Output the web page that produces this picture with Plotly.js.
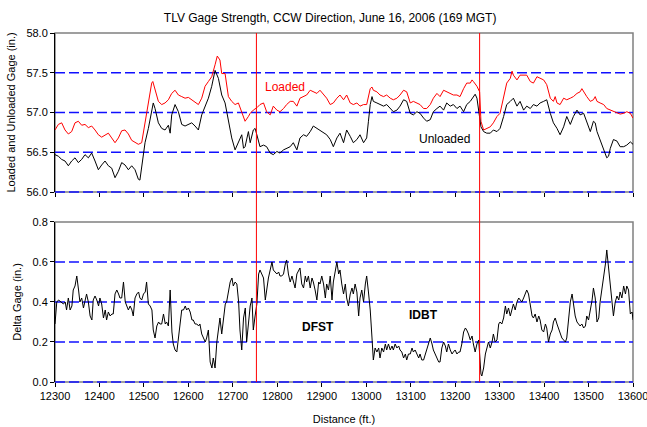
<!DOCTYPE html>
<html>
<head>
<meta charset="utf-8">
<script src="https://cdn.plot.ly/plotly-3.0.1.min.js"></script>
<style>html,body{margin:0;padding:0;background:#fff;}#chart{width:647px;height:427px;}</style>
</head>
<body>
<div id="chart"></div>
<script>
// Loaded gage (red), distance in ft
const loadedX = [12300,12307.5,12315,12322.5,12330,12337.5,12345,12352.5,12360,12367.5,12375,12382.5,12390,12397.5,12405,12412.5,12420,12427.5,12435,12442.5,12450,12457.5,12465,12472.5,12480,12487.5,12495,12502.5,12510,12517.5,12520,12525,12532.5,12540,12547.5,12555,12562.5,12570,12577.5,12585,12592.5,12600,12607.5,12615,12622.5,12630,12637.5,12645,12652.5,12660,12665,12671,12675,12682.5,12690,12697.5,12705,12712.5,12720,12727.5,12735,
12739,12746,12754,12761,12769,12776,12784,12791,12799,12806,12814,12821,12829,12836,12844,12851,12859,12866,12874,12881,12889,12896,12904,12911,12919,12926,12934,12941,12949,12956,12964,12971,12979,12986,12994,13001,13009,13013,13016,13024,13031,13039,13046,13054,13061,13069,13076,13084,13091,13099,13106,13114,13121,13129,13136,13144,13151,13159,
13166,13174,13181,13189,13196,13204,13211,13219,13226,13234,13238,13241,13249,13255,13258,13264,13271,13279,13286,13294,13301,13309,13316,13324,13328,13331,13339,13346,13354,13361,13369,13376,13384,13391,13399,13406,13414,13421,13425,13429,13436,13444,13451,13459,13466,13474,13481,13485,13489,13496,13504,13511,13515,13519,13526,13534,13541,13549,13556,13564,13571,13579,13586,13594,13600];
const loadedY = [56.78,56.85,56.87,56.78,56.73,56.76,56.87,56.89,56.84,56.85,56.81,56.83,56.78,56.72,56.69,56.72,56.74,56.68,56.62,56.68,56.77,56.78,56.73,56.65,56.63,56.60,56.62,56.89,57.10,57.37,57.39,57.30,57.14,57.10,57.12,57.16,57.24,57.28,57.22,57.20,57.18,57.19,57.16,57.14,57.10,57.18,57.33,57.39,57.45,57.60,57.71,57.66,57.49,57.49,57.20,57.14,57.10,57.12,56.99,56.89,56.95,
56.99,57.03,57.06,57.10,57.12,57.01,56.97,57.08,57.03,57.01,57.05,57.10,57.14,57.14,57.08,57.18,57.20,57.22,57.28,57.26,57.24,57.28,57.22,57.18,57.10,57.12,57.18,57.22,57.16,57.22,57.12,57.10,57.12,57.08,57.10,57.10,57.30,57.32,57.28,57.26,57.22,57.20,57.22,57.18,57.16,57.18,57.22,57.28,57.26,57.12,57.14,57.12,57.10,57.05,57.05,57.10,57.18,57.24,
57.20,57.28,57.26,57.24,57.22,57.22,57.20,57.30,57.37,57.37,57.41,57.39,57.33,57.26,56.89,56.78,56.80,56.82,56.87,56.95,56.99,57.18,57.37,57.43,57.52,57.47,57.41,57.47,57.47,57.47,57.39,57.37,57.45,57.43,57.41,57.35,57.18,57.14,57.20,57.12,57.10,57.18,57.16,57.18,57.20,57.24,57.26,57.30,57.26,57.20,57.14,57.16,57.20,57.14,57.12,57.10,57.05,57.03,57.01,56.99,56.98,56.99,57.01,56.99,56.93];

// Unloaded gage (black)
const unloadedX = [12300,12307.5,12315,12322.5,12330,12337.5,12345,12352.5,12360,12367.5,12375,12382.5,12390,12397.5,12405,12412.5,12420,12427.5,12435,12442.5,12450,12457.5,12465,12472.5,12480,12487.5,12491,12495,12502.5,12510,12517.5,12521,12525,12532.5,12540,12547.5,12555,12559,12562.5,12570,12577.5,12585,12592.5,12600,12607.5,12615,12622.5,12630,12637.5,12645,12652.5,12660,12667.5,12675,12682.5,12690,12697.5,12705,12712.5,12720,12724,12727.5,12735,
12739,12746,12750,12754,12761,12769,12776,12784,12791,12799,12806,12814,12821,12829,12836,12844,12851,12859,12866,12874,12881,12889,12896,12904,12911,12919,12926,12934,12941,12949,12956,12964,12971,12979,12986,12994,13001,13005,13009,13013,13016,13024,13031,13039,13046,13054,13061,13069,13076,13084,13091,13099,13106,13114,13121,13129,13136,13144,13151,13159,
13166,13174,13181,13189,13196,13204,13211,13219,13226,13234,13241,13245,13249,13255,13258,13264,13271,13279,13286,13294,13301,13309,13316,13324,13331,13339,13346,13354,13361,13369,13376,13384,13391,13399,13406,13414,13421,13429,13436,13444,13451,13459,13466,13474,13481,13489,13496,13504,13511,13515,13519,13526,13534,13541,13545,13549,13556,13564,13571,13579,13586,13594,13600];
const unloadedY = [56.47,56.45,56.41,56.39,56.33,56.39,56.43,56.37,56.41,56.47,56.43,56.49,56.39,56.28,56.34,56.39,56.33,56.30,56.18,56.26,56.37,56.34,56.28,56.33,56.28,56.16,56.15,56.34,56.62,56.80,56.99,57.12,57.05,56.87,56.80,56.78,56.84,56.74,56.97,57.10,57.01,56.85,56.83,56.85,56.87,56.83,56.78,56.97,57.08,57.18,57.33,57.53,57.43,57.22,57.12,56.89,56.68,56.53,56.62,56.72,56.55,56.57,56.76,
56.62,56.78,56.80,56.72,56.57,56.59,56.57,56.49,56.47,56.51,56.49,56.53,56.55,56.57,56.62,56.53,56.68,56.72,56.70,56.76,56.83,56.80,56.78,56.74,56.72,56.66,56.57,56.68,56.74,56.62,56.78,56.70,56.62,56.66,56.72,56.62,56.68,56.89,57.10,57.20,57.14,57.12,57.10,57.08,57.10,57.05,57.01,57.03,57.08,57.16,57.14,56.99,56.97,57.01,56.99,56.93,56.89,56.91,57.01,57.05,
57.08,57.03,57.12,57.08,57.10,57.05,57.08,57.01,57.10,57.14,57.20,57.23,57.18,56.97,56.82,56.76,56.74,56.74,56.78,56.76,56.80,56.95,57.10,57.14,57.18,57.08,57.14,57.03,57.08,57.05,57.10,57.08,57.12,57.14,57.16,56.99,56.87,56.80,56.72,56.82,56.95,56.85,56.95,57.03,56.97,56.99,56.89,56.76,56.89,56.87,56.76,56.66,56.53,56.43,56.45,56.55,56.66,56.64,56.57,56.57,56.59,56.63,56.60];

// Delta gage (black, lower panel)
const deltaX = [12300,12304,12308,12315,12319,12323,12326,12330,12334,12338,12341,12345,12349,12353,12356,12360,12364,12368,12371,12375,12379,12383,12386,12390,12394,12398,12401,12405,12409,12413,12416,12420,12424,12428,12431,12435,12439,12443,12446,12450,12454,12458,12461,12465,12469,12473,12476,12480,12484,12488,12491,12495,12499,12503,12506,12510,12514,12518,12521,12525,12529,12533,12536,12540,12544,12548,12551,12555,12559,12563,12566,12570,12574,12578,12581,12585,12589,12593,12596,12600,12604,12608,12611,12615,12619,12623,12626,12630,12634,12638,12641,12645,12649,12653,12656,12660,12664,12668,12671,12675,12679,12683,12686,12690,12694,12698,12701,12705,12709,12713,12716,12720,12724,12728,12731,12735,
12739,12743,12746,12750,12754,12758,12761,12765,12769,12773,12776,12780,12784,12788,12791,12795,12799,12803,12806,12810,12814,12818,12821,12825,12829,12833,12836,12840,12844,12848,12851,12855,12859,12863,12866,12870,12874,12878,12881,12885,12889,12893,12896,12900,12904,12908,12911,12915,12919,12923,12926,12930,12934,12938,12941,12945,12949,12953,12956,12960,12964,12968,12971,12975,12979,12983,12986,12990,12994,12998,13001,13005,13009,13013,13016,13020,13024,13028,13031,13035,13039,13043,13046,13050,13054,13058,13061,13065,13069,13073,13076,13080,13084,13088,13091,13095,13099,13103,13106,13110,13114,13118,13121,13125,13129,13133,13136,13140,13144,13148,13151,13155,13159,13163,
13166,13170,13174,13178,13181,13185,13189,13193,13196,13200,13204,13208,13211,13215,13219,13223,13226,13230,13234,13238,13241,13245,13249,13253,13255,13258,13260,13264,13268,13271,13275,13279,13283,13286,13290,13294,13298,13301,13305,13309,13313,13316,13320,13324,13328,13331,13335,13339,13343,13346,13350,13354,13358,13361,13365,13369,13373,13376,13380,13384,13388,13391,13395,13399,13403,13406,13410,13414,13418,13421,13425,13429,13433,13436,13440,13444,13448,13451,13455,13459,13463,13466,13470,13474,13478,13481,13485,13489,13493,13496,13500,13504,13508,13511,13515,13519,13523,13526,13530,13534,13538,13541,13545,13549,13553,13556,13560,13564,13568,13571,13575,13579,13583,13586,13590,13594,13598,13600];
const deltaY = [0.29,0.40,0.41,0.40,0.39,0.40,0.36,0.42,0.36,0.38,0.46,0.48,0.53,0.46,0.40,0.42,0.37,0.41,0.44,0.40,0.33,0.31,0.41,0.43,0.41,0.38,0.42,0.39,0.32,0.36,0.31,0.35,0.33,0.34,0.34,0.44,0.46,0.44,0.42,0.42,0.50,0.40,0.38,0.36,0.38,0.36,0.33,0.42,0.44,0.45,0.42,0.41,0.44,0.45,0.50,0.39,0.38,0.36,0.26,0.22,0.28,0.30,0.29,0.29,0.34,0.29,0.30,0.28,0.46,0.25,0.19,0.16,0.15,0.24,0.30,0.36,0.36,0.38,0.36,0.37,0.35,0.31,0.31,0.29,0.29,0.28,0.29,0.24,0.22,0.20,0.22,0.26,0.10,0.07,0.12,0.07,0.20,0.29,0.32,0.24,0.33,0.39,0.40,0.46,0.50,0.52,0.48,0.50,0.49,0.40,0.26,0.16,0.32,0.37,0.20,0.29,
0.38,0.42,0.26,0.33,0.39,0.54,0.56,0.54,0.52,0.41,0.46,0.52,0.56,0.60,0.56,0.55,0.54,0.55,0.53,0.53,0.54,0.59,0.61,0.54,0.50,0.53,0.50,0.47,0.54,0.56,0.57,0.49,0.47,0.53,0.50,0.53,0.47,0.52,0.50,0.46,0.41,0.50,0.49,0.53,0.49,0.42,0.49,0.46,0.53,0.41,0.50,0.55,0.60,0.54,0.56,0.49,0.44,0.49,0.42,0.38,0.44,0.47,0.44,0.49,0.45,0.33,0.42,0.46,0.40,0.49,0.53,0.45,0.36,0.22,0.11,0.17,0.15,0.17,0.12,0.17,0.15,0.19,0.16,0.19,0.16,0.18,0.16,0.19,0.17,0.18,0.16,0.15,0.12,0.14,0.11,0.14,0.14,0.17,0.15,0.16,0.14,0.12,0.14,0.11,0.11,0.14,0.17,0.19,0.22,0.19,0.16,0.14,0.12,0.10,
0.10,0.17,0.20,0.18,0.15,0.19,0.16,0.14,0.15,0.16,0.14,0.15,0.15,0.19,0.25,0.27,0.26,0.24,0.21,0.23,0.19,0.15,0.19,0.21,0.14,0.04,0.03,0.07,0.14,0.17,0.20,0.17,0.20,0.24,0.20,0.21,0.29,0.30,0.29,0.32,0.38,0.34,0.37,0.33,0.36,0.39,0.36,0.40,0.42,0.41,0.40,0.42,0.45,0.46,0.44,0.39,0.33,0.32,0.34,0.30,0.33,0.31,0.26,0.25,0.29,0.27,0.20,0.24,0.26,0.30,0.32,0.29,0.26,0.24,0.22,0.21,0.20,0.22,0.32,0.40,0.44,0.40,0.33,0.30,0.29,0.28,0.29,0.27,0.28,0.33,0.31,0.36,0.41,0.47,0.42,0.30,0.32,0.40,0.46,0.52,0.59,0.66,0.57,0.50,0.42,0.33,0.40,0.43,0.41,0.45,0.42,0.48,0.44,0.48,0.46,0.34,0.35,0.31];

// Axis ticks
const xTicks = [12300,12400,12500,12600,12700,12800,12900,13000,13100,13200,13300,13400,13500,13600];
const topTicks = [56.0, 56.5, 57.0, 57.5, 58.0];
const bottomTicks = [0.0, 0.2, 0.4, 0.6, 0.8];

// Section boundaries (ft)
const sectionLines = [12753, 13255];
const topGrid = [56.5, 57.0, 57.5];
const bottomGrid = [0.2, 0.4, 0.6];
const labels = [
  {text: 'Loaded', x: 12817, y: 57.32, axis: 'y2', color: '#ff0000', bold: false},
  {text: 'Unloaded', x: 13175, y: 56.67, axis: 'y2', color: '#000000', bold: false},
  {text: 'DFST', x: 12891, y: 0.274, axis: 'y', color: '#000000', bold: true},
  {text: 'IDBT', x: 13129, y: 0.334, axis: 'y', color: '#000000', bold: true}
];

const FONT = 'Liberation Sans, Arial, sans-serif';
const DASH = {color: '#1010ff', width: 1.3, dash: '10px,4px'};

const traces = [
  {x: loadedX, y: loadedY, xaxis: 'x2', yaxis: 'y2', type: 'scatter', mode: 'lines',
   line: {color: '#ff0000', width: 1}, name: 'Loaded'},
  {x: unloadedX, y: unloadedY, xaxis: 'x2', yaxis: 'y2', type: 'scatter', mode: 'lines',
   line: {color: '#000000', width: 1}, name: 'Unloaded'},
  {x: deltaX, y: deltaY, xaxis: 'x', yaxis: 'y', type: 'scatter', mode: 'lines',
   line: {color: '#000000', width: 1}, name: 'Delta'}
];

const shapes = [];
['y', 'y2'].forEach(function (ya) {
  shapes.push({type: 'rect', xref: 'x domain', yref: ya + ' domain', x0: 0, x1: 1, y0: 0, y1: 1,
    line: {color: '#808080', width: 1.5}, layer: 'below'});
  shapes.push({type: 'line', xref: 'x domain', yref: ya + ' domain', x0: 0, x1: 1, y0: 0, y1: 0,
    line: DASH, layer: 'below'});
});
topGrid.forEach(function (v) {
  shapes.push({type: 'line', xref: 'x domain', yref: 'y2', x0: 0, x1: 1, y0: v, y1: v,
    line: DASH, layer: 'below'});
});
bottomGrid.forEach(function (v) {
  shapes.push({type: 'line', xref: 'x domain', yref: 'y', x0: 0, x1: 1, y0: v, y1: v,
    line: DASH, layer: 'below'});
});
sectionLines.forEach(function (v) {
  shapes.push({type: 'line', xref: 'x', yref: 'paper', x0: v, x1: v, y0: 0, y1: 1,
    line: {color: '#ff0000', width: 1}, layer: 'above'});
});

const annotations = labels.map(function (l) {
  return {text: l.bold ? '<b>' + l.text + '</b>' : l.text, x: l.x, y: l.y, xref: 'x', yref: l.axis,
    showarrow: false, font: {family: FONT, size: 12, color: l.color}};
});

const axisFont = {family: FONT, size: 11, color: '#000'};

const layout = {
  width: 647, height: 427,
  margin: {l: 55, r: 14, t: 33, b: 45},
  paper_bgcolor: '#ffffff', plot_bgcolor: '#ffffff',
  showlegend: false,
  font: {family: FONT, size: 11, color: '#000'},
  title: {text: 'TLV Gage Strength, CCW Direction, June 16, 2006 (169 MGT)',
    font: {family: FONT, size: 12, color: '#000'}, xref: 'paper', x: 0.476, xanchor: 'center', y: 0.958, yanchor: 'middle'},
  xaxis: {domain: [0, 1], anchor: 'y', range: [12300, 13600], tickmode: 'array', tickvals: xTicks,
    ticktext: xTicks.map(String), ticklabeloverflow: 'allow',
    showgrid: false, zeroline: false, showline: false, ticks: 'outside', ticklen: 4, tickcolor: '#000',
    tickfont: axisFont, title: {text: 'Distance (ft.)', font: axisFont, standoff: 14}},
  xaxis2: {domain: [0, 1], anchor: 'y2', matches: 'x', range: [12300, 13600], tickmode: 'array', tickvals: xTicks,
    showgrid: false, zeroline: false, showline: false, ticks: 'outside', ticklen: 4, tickcolor: '#000',
    showticklabels: false},
  yaxis: {domain: [0, 0.4585], anchor: 'x', range: [0, 0.8], tickmode: 'array', tickvals: bottomTicks,
    ticktext: bottomTicks.map(function (v) { return v.toFixed(1); }),
    showgrid: false, zeroline: false, showline: true, linecolor: '#000', linewidth: 1,
    ticks: 'outside', ticklen: 4, tickcolor: '#000', tickfont: axisFont,
    title: {text: 'Delta Gage (in.)', font: axisFont, standoff: 8}},
  yaxis2: {domain: [0.5444, 1], anchor: 'x2', range: [56, 58], tickmode: 'array', tickvals: topTicks,
    ticktext: topTicks.map(function (v) { return v.toFixed(1); }),
    showgrid: false, zeroline: false, showline: true, linecolor: '#000', linewidth: 1,
    ticks: 'outside', ticklen: 4, tickcolor: '#000', tickfont: axisFont,
    title: {text: 'Loaded and Unloaded Gage (in.)', font: axisFont, standoff: 8}},
  shapes: shapes,
  annotations: annotations
};

Plotly.newPlot('chart', traces, layout, {displayModeBar: false, staticPlot: true});
</script>
</body>
</html>
